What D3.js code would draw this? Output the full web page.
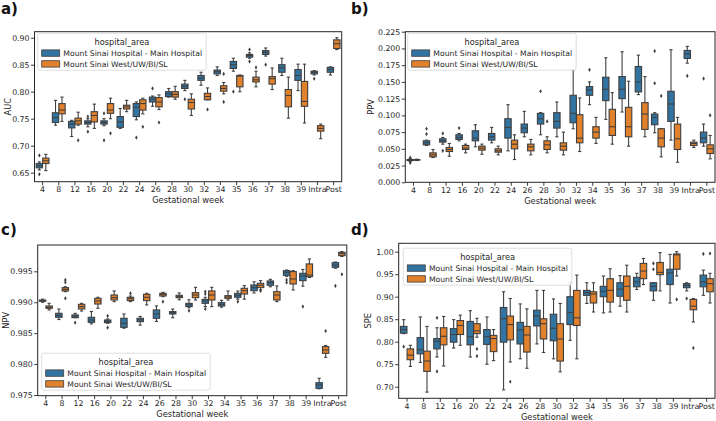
<!DOCTYPE html>
<html><head><meta charset="utf-8">
<script src="https://cdn.jsdelivr.net/npm/d3@7"></script>
<style>body{margin:0;background:#fff} svg{display:block} text{font-family:"DejaVu Sans",sans-serif}</style>
</head><body>
<svg id="chart" width="716" height="421"></svg>
<script>
const weeks = ["4","8","12","16","20","22","24","26","28","30","32","34","35","36","37","38","39","Intra","Post"];
const hospitals = ["Mount Sinai Hospital - Main Hospital", "Mount Sinai West/UW/BI/SL"];
const legendTitle = "hospital_area";
const xLabel = "Gestational week";

const aucTicks = [0.65,0.70,0.75,0.80,0.85,0.90];
const ppvTicks = [0,0.025,0.05,0.075,0.1,0.125,0.15,0.175,0.2,0.225];
const npvTicks = [0.975,0.98,0.985,0.99,0.995];
const speTicks = [0.70,0.75,0.80,0.85,0.90,0.95,1.00];

// [whiskerLow, q1, median, q3, whiskerHigh]
const aucMain = [[0.655,0.659,0.663,0.667,0.670],[0.738,0.743,0.752,0.761,0.784],[0.717,0.733,0.740,0.745,0.747],[0.735,0.740,0.743,0.746,0.750],[0.737,0.740,0.743,0.746,0.750],[0.732,0.734,0.744,0.754,0.769],[0.748,0.754,0.771,0.778,0.781],[0.773,0.781,0.786,0.790,0.792],[0.790,0.791,0.796,0.800,0.806],[0.802,0.806,0.810,0.814,0.821],[0.812,0.821,0.825,0.830,0.836],[0.830,0.833,0.837,0.840,0.846],[0.838,0.843,0.850,0.856,0.862],[0.862,0.864,0.867,0.869,0.872],[0.866,0.869,0.873,0.876,0.881],[0.830,0.836,0.844,0.850,0.862],[0.802,0.821,0.830,0.841,0.851],[0.831,0.833,0.836,0.838,0.839],[0.831,0.836,0.841,0.845,0.846]];
const aucMainOut = [[0.682,0.647],[],[],[0.754,0.726],[0.760,0.710],[],[0.715],[0.806],[],[0.786],[],[],[0.800],[0.878,0.856],[0.850],[],[],[0.824],[]];
const aucWest = [[0.654,0.667,0.672,0.677,0.684],[0.745,0.759,0.766,0.778,0.790],[0.738,0.740,0.746,0.751,0.762],[0.732,0.744,0.756,0.763,0.777],[0.750,0.760,0.766,0.778,0.788],[0.763,0.768,0.772,0.775,0.784],[0.759,0.766,0.778,0.785,0.788],[0.767,0.772,0.781,0.789,0.794],[0.786,0.790,0.795,0.800,0.810],[0.756,0.768,0.780,0.786,0.796],[0.785,0.785,0.791,0.797,0.807],[0.796,0.801,0.806,0.811,0.817],[0.800,0.809,0.829,0.830,0.831],[0.809,0.818,0.822,0.827,0.838],[0.804,0.814,0.824,0.828,0.844],[0.751,0.772,0.793,0.804,0.827],[0.742,0.773,0.782,0.819,0.851],[0.713,0.727,0.732,0.737,0.740],[0.878,0.880,0.889,0.896,0.900]];
const aucWestOut = [[],[],[0.710],[],[0.723],[],[0.735],[0.743],[],[],[0.767],[0.833,0.781],[],[0.845],[],[],[],[],[]];

const ppvMain = [[0.031,0.0325,0.0335,0.034,0.0355],[0.055,0.056,0.059,0.062,0.063],[0.057,0.060,0.062,0.065,0.067],[0.062,0.064,0.067,0.071,0.073],[0.053,0.062,0.066,0.077,0.086],[0.059,0.063,0.068,0.073,0.082],[0.047,0.066,0.082,0.095,0.116],[0.068,0.074,0.081,0.087,0.106],[0.071,0.087,0.095,0.103,0.104],[0.068,0.081,0.091,0.104,0.120],[0.080,0.089,0.103,0.130,0.168],[0.116,0.130,0.138,0.143,0.150],[0.094,0.122,0.139,0.157,0.186],[0.105,0.125,0.139,0.158,0.195],[0.131,0.135,0.150,0.173,0.190],[0.074,0.086,0.097,0.102,0.104],[0.063,0.091,0.117,0.136,0.198],[0.178,0.185,0.192,0.197,0.203],[0.054,0.059,0.066,0.075,0.087]];
const ppvMainOut = [[0.037,0.029],[0.080,0.072],[0.073,0.047],[0.081],[],[],[],[],[0.136],[],[],[0.168],[],[],[],[0.196,0.148],[],[0.159],[0.155]];
const ppvWest = [[0.0325,0.033,0.0335,0.034,0.0345],[0.037,0.038,0.041,0.044,0.049],[0.039,0.046,0.049,0.052,0.058],[0.044,0.049,0.051,0.055,0.057],[0.042,0.048,0.051,0.054,0.057],[0.041,0.045,0.047,0.050,0.054],[0.034,0.050,0.057,0.063,0.071],[0.041,0.047,0.053,0.057,0.064],[0.044,0.049,0.056,0.062,0.068],[0.041,0.048,0.054,0.059,0.075],[0.046,0.059,0.066,0.101,0.126],[0.058,0.066,0.075,0.083,0.097],[0.057,0.070,0.083,0.109,0.134],[0.054,0.068,0.083,0.112,0.151],[0.068,0.079,0.102,0.119,0.158],[0.038,0.053,0.066,0.080,0.080],[0.030,0.049,0.065,0.087,0.097],[0.052,0.055,0.058,0.060,0.063],[0.035,0.043,0.050,0.056,0.070]];
const ppvWestOut = [[],[],[],[],[],[],[],[],[0.091],[],[],[],[],[],[],[0.129],[],[],[0.100]];

const npvMain = [[0.9900,0.99015,0.99026,0.99036,0.9905],[0.9872,0.98756,0.98788,0.98821,0.9889],[0.9875,0.98751,0.98778,0.98794,0.9882],[0.9865,0.98675,0.98713,0.98756,0.9885],[0.9866,0.98670,0.98691,0.98713,0.9873],[0.9858,0.98594,0.98659,0.98740,0.9881],[0.9863,0.98686,0.98713,0.98740,0.9877],[0.9869,0.98740,0.98810,0.98875,0.9894],[0.9875,0.98810,0.98831,0.98848,0.9889],[0.9891,0.98929,0.98956,0.98982,0.9904],[0.9893,0.98982,0.99020,0.99047,0.9908],[0.9892,0.98939,0.98966,0.98993,0.9903],[0.9905,0.99080,0.99112,0.99144,0.9918],[0.9915,0.99187,0.99236,0.99279,0.9933],[0.9925,0.99274,0.99317,0.99344,0.9937],[0.9942,0.99435,0.99484,0.99511,0.9952],[0.9926,0.99349,0.99425,0.99468,0.9953],[0.9760,0.97608,0.97662,0.97699,0.9777],[0.9955,0.99565,0.99602,0.99640,0.9965]];
const npvMainOut = [[],[],[0.9867],[],[0.98778,0.98589],[],[],[],[],[0.98864],[0.99171,0.99133,0.98891],[],[0.99009],[],[],[0.9936,0.99317],[0.98929],[],[0.99263]];
const npvWest = [[0.98875,0.98902,0.98918,0.98939,0.98982],[0.99170,0.99182,0.99209,0.99236,0.9925],[0.98858,0.98891,0.98929,0.98966,0.98982],[0.98902,0.98971,0.99020,0.99063,0.99080],[0.99009,0.99036,0.99074,0.99117,0.99182],[0.9901,0.99026,0.99058,0.99080,0.9910],[0.98956,0.99026,0.99079,0.99128,0.99144],[0.9909,0.99101,0.99128,0.99144,0.9916],[0.9904,0.99074,0.99090,0.99112,0.9915],[0.99036,0.99074,0.99117,0.99155,0.99241],[0.98929,0.99036,0.99117,0.99182,0.99241],[0.99036,0.99063,0.99085,0.99106,0.99182],[0.9905,0.99133,0.99187,0.99225,0.99268],[0.9920,0.99236,0.99274,0.99306,0.99349],[0.99009,0.99036,0.99117,0.99171,0.99263],[0.99198,0.99295,0.99376,0.99495,0.99511],[0.99400,0.99414,0.99441,0.99619,0.9970],[0.98109,0.98174,0.98228,0.98282,0.98300],[0.9974,0.99753,0.99786,0.99807,0.9982]];
const npvWestOut = [[],[0.9936,0.99322,0.99063],[],[],[],[0.99144],[],[0.99009],[],[],[],[],[],[0.99182],[],[],[],[0.98535],[0.99451]];

const speMain = [[0.818,0.819,0.827,0.834,0.849],[0.754,0.773,0.782,0.809,0.855],[0.766,0.784,0.801,0.807,0.831],[0.786,0.799,0.816,0.829,0.849],[0.766,0.793,0.811,0.845,0.869],[0.750,0.794,0.811,0.827,0.855],[0.693,0.799,0.851,0.876,0.911],[0.762,0.795,0.826,0.843,0.884],[0.795,0.835,0.857,0.870,0.914],[0.762,0.802,0.830,0.861,0.895],[0.803,0.838,0.865,0.900,0.932],[0.885,0.903,0.909,0.914,0.931],[0.864,0.900,0.912,0.923,0.946],[0.879,0.901,0.917,0.931,0.947],[0.916,0.922,0.933,0.943,0.952],[0.892,0.913,0.923,0.931,0.931],[0.886,0.927,0.953,0.961,0.994],[0.913,0.920,0.925,0.929,0.931],[0.903,0.922,0.933,0.948,0.959]];
const speMainOut = [[0.789],[],[0.853,0.734],[],[],[],[],[],[],[],[],[],[],[],[],[0.974,0.961],[],[0.896],[0.995]];
const speWest = [[0.745,0.760,0.770,0.784,0.792],[0.688,0.734,0.757,0.779,0.834],[0.746,0.793,0.812,0.831,0.856],[0.792,0.816,0.836,0.847,0.859],[0.810,0.818,0.824,0.840,0.852],[0.758,0.778,0.807,0.814,0.827],[0.755,0.804,0.838,0.857,0.896],[0.741,0.777,0.815,0.834,0.873],[0.776,0.806,0.840,0.851,0.914],[0.733,0.757,0.806,0.840,0.885],[0.762,0.836,0.853,0.914,0.948],[0.866,0.886,0.906,0.911,0.931],[0.866,0.888,0.914,0.940,0.962],[0.866,0.892,0.923,0.946,0.970],[0.927,0.940,0.957,0.974,0.985],[0.913,0.949,0.954,0.976,0.998],[0.946,0.961,0.993,0.995,1.000],[0.844,0.871,0.879,0.894,0.896],[0.886,0.911,0.929,0.940,0.952]];
const speWestOut = [[],[],[],[],[0.784,0.768],[],[0.711],[],[],[],[],[],[],[],[],[],[0.894],[0.786],[0.996]];

const colors = ["#3274a1", "#e1812c"];
const gray = "#3f3f3f";

const panels = [
  {tag:"a)", tagX:1, tagY:14, stats:[aucMain,aucWest], outs:[aucMainOut,aucWestOut], ticks:aucTicks, fmt:".2f", ylabel:"AUC", ylabelX:8,
   left:34.5, right:341.7, top:31.7, bottom:181.7, domain:[0.65,0.90], range:[172.7,37.7], legX:37.7, legTitleY:41.7},
  {tag:"b)", tagX:351, tagY:14, stats:[ppvMain,ppvWest], outs:[ppvMainOut,ppvWestOut], ticks:ppvTicks, fmt:".3f", ylabel:"PPV", ylabelX:371,
   left:405.3, right:715, top:31.7, bottom:182.3, domain:[0,0.225], range:[182.3,31.7], legX:407.7, legTitleY:41.7},
  {tag:"c)", tagX:1, tagY:235, stats:[npvMain,npvWest], outs:[npvMainOut,npvWestOut], ticks:npvTicks, fmt:".3f", ylabel:"NPV", ylabelX:6,
   left:37.7, right:346.8, top:245, bottom:395.7, domain:[0.975,0.995], range:[395,271.3], legX:41.7, legTitleY:361.7},
  {tag:"d)", tagX:351, tagY:235, stats:[speMain,speWest], outs:[speMainOut,speWestOut], ticks:speTicks, fmt:".2f", ylabel:"SPE", ylabelX:367.7,
   left:398.7, right:715, top:243.3, bottom:398.3, domain:[0.70,1.00], range:[386.7,251.7], legX:403.3, legTitleY:256.7}
];

const svg = d3.select("#chart");

function diamond(cx, cy) {
  const hw = 1.3, hh = 2.1;
  return `M${cx},${cy-hh}L${cx+hw},${cy}L${cx},${cy+hh}L${cx-hw},${cy}Z`;
}

panels.forEach(p => {
  const g = svg.append("g");
  const x = d3.scaleBand().domain(weeks).range([p.left, p.right]).padding(0);
  const hue = d3.scaleBand().domain(hospitals).range([0.1 * x.bandwidth(), 0.9 * x.bandwidth()]);
  const y = d3.scaleLinear().domain(p.domain).range(p.range);
  const bw = hue.bandwidth() * 0.98;

  hospitals.forEach((h, si) => {
    const stats = p.stats[si], outs = p.outs[si];
    weeks.forEach((w, i) => {
      const [lo, q1, med, q3, hi] = stats[i];
      const cx = x(w) + hue(h) + hue.bandwidth() / 2;
      const bg = g.append("g").attr("stroke", gray).attr("stroke-width", 1.1).attr("fill", "none");
      bg.append("line").attr("x1", cx).attr("x2", cx).attr("y1", y(q1)).attr("y2", y(lo));
      bg.append("line").attr("x1", cx).attr("x2", cx).attr("y1", y(q3)).attr("y2", y(hi));
      bg.append("line").attr("x1", cx - bw / 4).attr("x2", cx + bw / 4).attr("y1", y(lo)).attr("y2", y(lo));
      bg.append("line").attr("x1", cx - bw / 4).attr("x2", cx + bw / 4).attr("y1", y(hi)).attr("y2", y(hi));
      bg.append("rect").attr("x", cx - bw / 2).attr("width", bw)
        .attr("y", y(q3)).attr("height", Math.max(0.5, y(q1) - y(q3)))
        .attr("fill", colors[si]);
      bg.append("line").attr("x1", cx - bw / 2).attr("x2", cx + bw / 2).attr("y1", y(med)).attr("y2", y(med));
      outs[i].forEach(v => {
        g.append("path").attr("d", diamond(cx, y(v))).attr("fill", gray).attr("stroke", "none");
      });
    });
  });

  // frame
  g.append("rect").attr("x", p.left).attr("y", p.top).attr("width", p.right - p.left).attr("height", p.bottom - p.top)
    .attr("fill", "none").attr("stroke", "#262626").attr("stroke-width", 1);

  // axes
  const xa = g.append("g").attr("transform", `translate(0,${p.bottom})`)
    .call(d3.axisBottom(x).tickSize(3.5).tickPadding(1.5));
  const ya = g.append("g").attr("transform", `translate(${p.left},0)`)
    .call(d3.axisLeft(y).tickValues(p.ticks).tickFormat(d3.format(p.fmt)).tickSize(3.5).tickPadding(1.5));
  [xa, ya].forEach(a => {
    a.select(".domain").remove();
    a.selectAll(".tick line").attr("stroke", "#262626").attr("stroke-width", 0.9);
    a.selectAll(".tick text").attr("fill", "#262626").style("font-size", "7.8px").style("font-family", "DejaVu Sans");
  });

  g.append("text").attr("x", (p.left + p.right) / 2).attr("y", p.bottom + 21.5)
    .attr("text-anchor", "middle").attr("fill", "#262626").style("font-size", "8.3px").text(xLabel);
  g.append("text").attr("transform", `translate(${p.ylabelX + 3},${(p.top + p.bottom) / 2}) rotate(-90)`)
    .attr("text-anchor", "middle").attr("fill", "#262626").style("font-size", "8.3px").text(p.ylabel);

  g.append("text").attr("x", p.tagX).attr("y", p.tagY).attr("fill", "#111")
    .style("font-size", "15px").style("font-weight", "bold").text(p.tag);

  // legend
  const lg = g.append("g");
  const top = p.legTitleY - 8.5, bottom = p.legTitleY + 28.5;
  const box = lg.append("rect").attr("x", p.legX).attr("y", top).attr("rx", 2).attr("height", bottom - top)
    .attr("fill", "#fff").attr("fill-opacity", 0.85).attr("stroke", "#d6d6d6").attr("stroke-width", 0.8);
  let maxW = 0;
  hospitals.forEach((h, si) => {
    const cy = p.legTitleY + 11.4 + si * 10.8;
    lg.append("rect").attr("x", p.legX + 4).attr("y", cy - 3.2).attr("width", 18).attr("height", 6.4)
      .attr("fill", colors[si]).attr("stroke", gray).attr("stroke-width", 0.8);
    const t = lg.append("text").attr("x", p.legX + 25.6).attr("y", cy + 2.8).attr("fill", "#262626")
      .style("font-size", "7.7px").text(h);
    maxW = Math.max(maxW, t.node().getComputedTextLength());
  });
  const bwid = 25.6 + maxW + 4;
  box.attr("width", bwid);
  lg.append("text").attr("x", p.legX + bwid / 2).attr("y", p.legTitleY + 3).attr("text-anchor", "middle")
    .attr("fill", "#262626").style("font-size", "8.2px").text(legendTitle);
});
</script>
</body></html>
